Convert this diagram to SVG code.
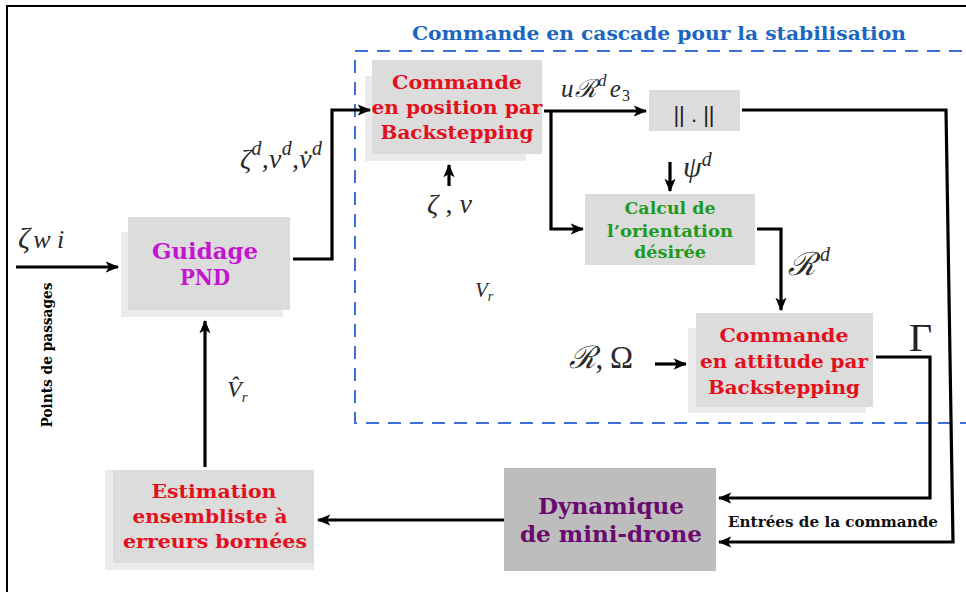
<svg xmlns="http://www.w3.org/2000/svg" width="966" height="592" viewBox="0 0 966 592">
<defs>
<marker id="ah" viewBox="0 0 12 10" refX="11" refY="5" markerWidth="4.2" markerHeight="3.6" orient="auto" markerUnits="strokeWidth">
<path d="M0,0 L12,5 L0,10 L3,5 Z" fill="#000"/>
</marker>
</defs>
<style>
.box{fill:#dcdcdc}
.sh{fill:#ebebeb}
.dark{fill:#bdbdbd}
.t{font-family:"DejaVu Serif","Liberation Serif",serif;font-weight:bold;text-anchor:middle}
.red{fill:#e3101c;font-size:18px}
.m{font-family:"Liberation Serif","DejaVu Serif",serif;font-style:italic;fill:#2a2a2a}
.ln{fill:none;stroke:#000;stroke-width:3.2}
</style>
<rect x="0" y="0" width="966" height="592" fill="#fff"/>
<rect x="7" y="6" width="980" height="600" fill="none" stroke="#000" stroke-width="2"/>
<g id="cascade">
<rect x="355" y="51" width="640" height="372" fill="none" stroke="#3d6fd6" stroke-width="2" stroke-dasharray="13,9"/>
<text x="659" y="40" class="t" fill="#1a66c0" font-size="19" textLength="494" lengthAdjust="spacingAndGlyphs">Commande en cascade pour la stabilisation</text>
</g>
<g id="guidage">
<rect class="sh" x="121" y="232" width="162" height="85"/>
<rect class="box" x="128" y="217" width="162" height="93"/>
<text class="t" x="205" y="259" fill="#c414d0" font-size="23" textLength="106" lengthAdjust="spacingAndGlyphs">Guidage</text>
<text class="t" x="205" y="285" fill="#c414d0" font-size="23" textLength="50" lengthAdjust="spacingAndGlyphs">PND</text>
</g>
<g id="cmd_position">
<rect class="sh" x="365" y="76" width="161" height="85"/>
<rect class="box" x="372" y="60" width="170" height="94"/>
<text class="t red" x="457" y="89" textLength="130" lengthAdjust="spacingAndGlyphs">Commande</text>
<text class="t red" x="457" y="114" textLength="171" lengthAdjust="spacingAndGlyphs">en position par</text>
<text class="t red" x="457" y="139" textLength="153" lengthAdjust="spacingAndGlyphs">Backstepping</text>
</g>
<g id="norme">
<rect class="box" x="649" y="90" width="91" height="41"/>
<text x="694" y="122" font-family="Liberation Sans,sans-serif" font-size="22" text-anchor="middle" fill="#222">|| . ||</text>
</g>
<g id="calcul">
<rect class="box" x="585" y="194" width="170" height="71"/>
<text class="t" x="670" y="214" fill="#1e9a1e" font-size="16" textLength="91" lengthAdjust="spacingAndGlyphs">Calcul de</text>
<text class="t" x="670" y="237" fill="#1e9a1e" font-size="16" textLength="126" lengthAdjust="spacingAndGlyphs">l’orientation</text>
<text class="t" x="670" y="258" fill="#1e9a1e" font-size="16" textLength="72" lengthAdjust="spacingAndGlyphs">désirée</text>
</g>
<g id="cmd_attitude">
<rect class="sh" x="688" y="328" width="178" height="85"/>
<rect class="box" x="696" y="313" width="177" height="94"/>
<text class="t red" x="784" y="342" textLength="129" lengthAdjust="spacingAndGlyphs">Commande</text>
<text class="t red" x="784" y="368" textLength="168" lengthAdjust="spacingAndGlyphs">en attitude par</text>
<text class="t red" x="784" y="394" textLength="152" lengthAdjust="spacingAndGlyphs">Backstepping</text>
</g>
<g id="dynamique">
<rect class="dark" x="504" y="468" width="212" height="103"/>
<text class="t" x="611" y="514" fill="#6a0a6e" font-size="22" textLength="146" lengthAdjust="spacingAndGlyphs">Dynamique</text>
<text class="t" x="611" y="542" fill="#6a0a6e" font-size="22" textLength="182" lengthAdjust="spacingAndGlyphs">de mini-drone</text>
</g>
<g id="estimation">
<rect class="sh" x="105" y="470" width="209" height="100"/>
<rect class="box" x="113" y="470" width="201" height="93"/>
<text class="t red" x="214" y="498" font-size="19" textLength="125" lengthAdjust="spacingAndGlyphs">Estimation</text>
<text class="t red" x="210" y="523" font-size="19" textLength="155" lengthAdjust="spacingAndGlyphs">ensembliste à</text>
<text class="t red" x="215" y="548" font-size="19" textLength="184" lengthAdjust="spacingAndGlyphs">erreurs bornées</text>
</g>
<g id="connectors" class="ln">
<line x1="16" y1="267" x2="118" y2="267" marker-end="url(#ah)"/>
<polyline points="293,259 332,259 332,110 370,110" marker-end="url(#ah)"/>
<line x1="449" y1="186" x2="449" y2="165" marker-end="url(#ah)"/>
<line x1="544" y1="111" x2="646" y2="111" marker-end="url(#ah)"/>
<polyline points="551,111 551,229 583,229" marker-end="url(#ah)"/>
<line x1="670" y1="162" x2="670" y2="191" marker-end="url(#ah)"/>
<polyline points="757,229 781,229 781,310" marker-end="url(#ah)"/>
<line x1="655" y1="364" x2="686" y2="364" marker-end="url(#ah)"/>
<polyline points="742,110 946,110 953,542 719,542" marker-end="url(#ah)"/>
<polyline points="876,357 930,357 930,498 719,498" marker-end="url(#ah)"/>
<line x1="504" y1="520" x2="318" y2="520" marker-end="url(#ah)"/>
<line x1="205" y1="467" x2="205" y2="321" marker-end="url(#ah)"/>
</g>
<g id="labels">
<text x="52" y="355" font-family="DejaVu Serif,Liberation Serif,serif" font-weight="bold" font-size="14" text-anchor="middle" transform="rotate(-90 52 355)" textLength="145" lengthAdjust="spacingAndGlyphs">Points de passages</text>
<text class="t" x="833" y="527" font-size="14" fill="#111" textLength="210" lengthAdjust="spacingAndGlyphs">Entrées de la commande</text>
<text class="m" x="18" y="248" font-size="30">ζ<tspan font-size="26" dx="3">w i</tspan></text>
<text class="m" x="240" y="168" font-size="28" textLength="82" lengthAdjust="spacing">ζ<tspan font-size="20" dy="-13">d</tspan><tspan dy="13">,</tspan><tspan>v</tspan><tspan font-size="20" dy="-13">d</tspan><tspan dy="13">,</tspan><tspan>v̇</tspan><tspan font-size="20" dy="-13">d</tspan></text>
<text class="m" x="427" y="213" font-size="28" textLength="45" lengthAdjust="spacing">ζ<tspan font-style="normal">,</tspan>v</text>
<text class="m" x="475" y="297" font-size="21">V<tspan font-size="14" dy="4">r</tspan></text>
<text class="m" x="561" y="97" font-size="25" textLength="69" lengthAdjust="spacing">u<tspan font-family="DejaVu Serif,serif">ℛ</tspan><tspan font-size="17" dy="-11">d</tspan><tspan dy="11" dx="2">e</tspan><tspan font-size="16" dy="4" font-style="normal">3</tspan></text>
<text class="m" x="683" y="177" font-size="30">ψ<tspan font-size="20" dy="-11">d</tspan></text>
<text class="m" x="788" y="275" font-size="32"><tspan font-family="DejaVu Serif,serif">ℛ</tspan><tspan font-size="20" dy="-14" dx="4">d</tspan></text>
<text class="m" x="569" y="368" font-size="31" textLength="64" lengthAdjust="spacing"><tspan font-family="DejaVu Serif,serif">ℛ</tspan><tspan font-style="normal">, Ω</tspan></text>
<text x="909" y="351" font-family="Liberation Serif,serif" font-size="40" fill="#222">Γ</text>
<text class="m" x="227" y="397" font-size="24">V̂<tspan font-size="15" dy="5">r</tspan></text>
</g>
</svg>
